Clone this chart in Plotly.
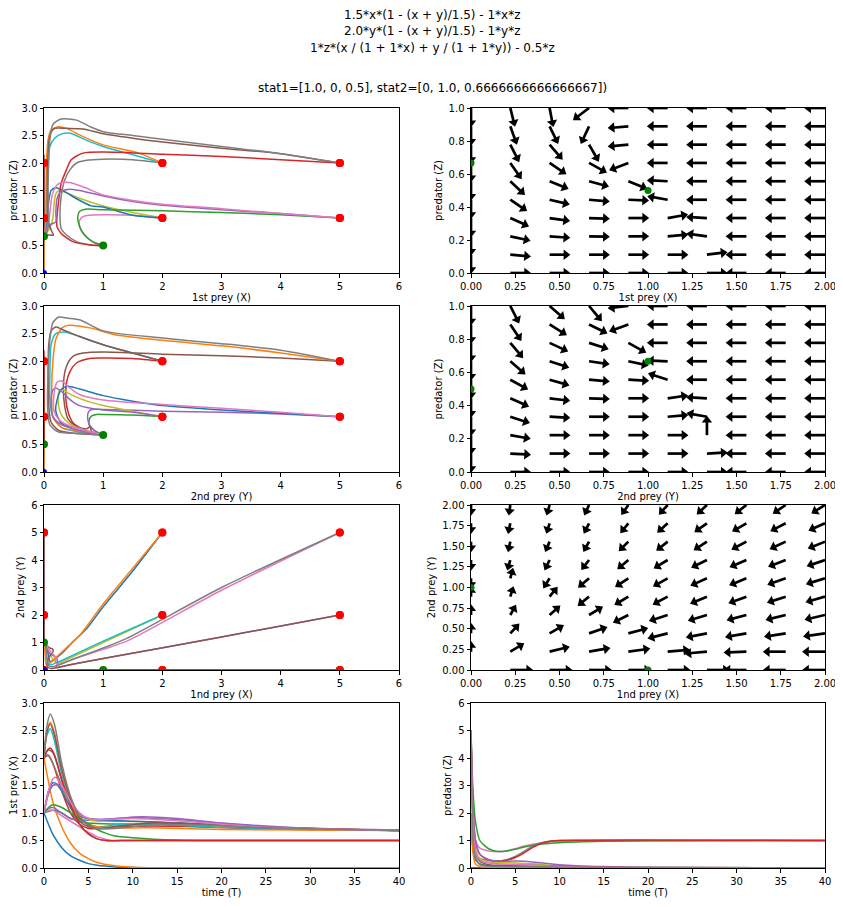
import math
import plotly.graph_objects as go
from plotly.subplots import make_subplots

# ---------------- data ----------------
TITLE_LINES = [
    "1.5*x*(1 - (x + y)/1.5) - 1*x*z",
    "2.0*y*(1 - (x + y)/1.5) - 1*y*z",
    "1*z*(x / (1 + 1*x) + y / (1 + 1*y)) - 0.5*z",
    "",
    "stat1=[1.0, 0, 0.5], stat2=[0, 1.0, 0.6666666666666667])",
]

COLORS = ['#1f77b4', '#ff7f0e', '#2ca02c', '#d62728', '#9467bd',
          '#8c564b', '#e377c2', '#7f7f7f', '#bcbd22', '#17becf']

# initial conditions (x, y, z)
STARTS = [(0, 0, 1), (0, 0, 2), (0, 2, 1), (0, 2, 2), (0, 5, 1), (0, 5, 2),
          (2, 0, 1), (2, 0, 2), (2, 2, 1), (2, 2, 2), (2, 5, 1), (2, 5, 2),
          (5, 0, 1), (5, 0, 2), (5, 2, 1), (5, 2, 2), (5, 5, 1), (5, 5, 2)]
STAT0 = (0, 0, 0)
STAT1 = (1.0, 0, 0.5)
STAT2 = (0, 1.0, 0.6666666666666667)

# phase paths: 1st prey (X) vs predator (Z)
XZ_PATHS = [
    [(0, 1), (0, 0)],
    [(0, 2), (0, 0)],
    [(0, 1), (0, 1.04), (0, 0.82), (0, 0.667)],
    [(0, 2), (0, 2.05), (0, 0.72), (0, 0.667)],
    [(0, 1), (0, 1.1), (0, 0.7), (0, 0.667)],
    [(0, 2), (0, 2.15), (0, 0.7), (0, 0.667)],
    [(2, 1), (1.5, 1.05), (1.0, 1.06), (0.75, 1.05), (0.65, 1.02), (0.6, 0.95), (0.6, 0.85), (0.64, 0.75), (0.73, 0.64), (0.85, 0.55), (1, 0.5)],
    [(2, 2), (1.5, 2.06), (1.0, 2.07), (0.72, 2.05), (0.55, 2.0), (0.44, 1.88), (0.35, 1.69), (0.29, 1.39), (0.27, 1.03), (0.29, 0.81), (0.38, 0.69), (0.55, 0.57), (0.8, 0.51), (1, 0.5)],
    [(2, 1), (1.5, 1.1), (1.0, 1.22), (0.6, 1.36), (0.35, 1.47), (0.25, 1.5), (0.2, 1.44), (0.17, 1.25), (0.15, 1.0), (0.11, 0.84), (0.05, 0.74), (0, 0.667)],
    [(2, 2), (1.5, 2.15), (1.0, 2.3), (0.7, 2.42), (0.45, 2.54), (0.3, 2.53), (0.18, 2.45), (0.1, 2.3), (0.07, 2.0), (0.05, 1.4), (0.04, 0.9), (0.02, 0.75), (0, 0.667)],
    [(2, 1), (1.5, 1.05), (1.0, 1.2), (0.8, 1.22), (0.55, 1.35), (0.35, 1.48), (0.2, 1.55), (0.12, 1.5), (0.08, 1.3), (0.06, 1.0), (0.04, 0.8), (0, 0.667)],
    [(2, 2), (1.6, 2.18), (1.0, 2.33), (0.66, 2.48), (0.38, 2.63), (0.24, 2.66), (0.12, 2.6), (0.07, 2.43), (0.04, 1.94), (0.03, 1.03), (0.02, 0.75), (0, 0.667)],
    [(5, 1), (4, 1.06), (3, 1.1), (2, 1.13), (1, 1.15), (0.7, 1.16), (0.6, 1.12), (0.57, 1.02), (0.6, 0.85), (0.68, 0.7), (0.82, 0.57), (1, 0.5)],
    [(5, 2), (4, 2.06), (3, 2.12), (2, 2.16), (1, 2.2), (0.66, 2.18), (0.46, 2.06), (0.38, 1.88), (0.29, 1.63), (0.25, 1.33), (0.22, 1.03), (0.22, 0.84), (0.29, 0.72), (0.49, 0.57), (0.77, 0.51), (1, 0.5)],
    [(5, 1), (4, 1.08), (3, 1.15), (2, 1.23), (1.5, 1.3), (1, 1.4), (0.6, 1.5), (0.4, 1.52), (0.28, 1.48), (0.22, 1.35), (0.2, 1.1), (0.2, 0.93), (0.15, 0.9), (0.08, 0.87), (0.04, 0.8), (0, 0.667)],
    [(5, 2), (4, 2.17), (3, 2.27), (2, 2.38), (1.5, 2.45), (1, 2.53), (0.66, 2.62), (0.38, 2.63), (0.18, 2.63), (0.1, 2.5), (0.06, 1.94), (0.07, 0.97), (0.12, 0.78), (0.16, 0.69), (0.08, 0.69), (0, 0.667)],
    [(5, 1), (4, 1.08), (3, 1.17), (2, 1.25), (1.5, 1.32), (1, 1.42), (0.7, 1.55), (0.45, 1.64), (0.32, 1.65), (0.22, 1.6), (0.14, 1.42), (0.1, 1.1), (0.08, 0.9), (0.05, 0.78), (0, 0.667)],
    [(5, 2), (4, 2.17), (3, 2.3), (2, 2.43), (1.5, 2.5), (1, 2.57), (0.8, 2.65), (0.55, 2.78), (0.29, 2.8), (0.15, 2.7), (0.1, 2.43), (0.07, 1.63), (0.07, 0.84), (0.04, 0.72), (0, 0.667)],
]

# phase paths: 2nd prey (Y) vs predator (Z)
YZ_PATHS = [
    [(0, 1), (0, 0)],
    [(0, 2), (0, 0)],
    [(2, 1), (1.5, 1.03), (1.0, 1.04), (0.89, 1.04), (0.8, 1.01), (0.76, 0.92), (0.77, 0.83), (0.86, 0.75), (1, 0.667)],
    [(2, 2), (1.5, 2.05), (0.94, 2.06), (0.77, 2.05), (0.55, 1.97), (0.44, 1.82), (0.38, 1.61), (0.37, 1.31), (0.41, 1.07), (0.49, 0.89), (0.66, 0.77), (0.83, 0.71), (1, 0.667)],
    [(5, 1), (4, 1.05), (3, 1.08), (2, 1.1), (1, 1.13), (0.8, 1.13), (0.75, 1.08), (0.74, 0.95), (0.77, 0.85), (0.85, 0.75), (1, 0.667)],
    [(5, 2), (4, 2.06), (3, 2.1), (2, 2.13), (1, 2.17), (0.66, 2.15), (0.49, 2.09), (0.38, 1.91), (0.33, 1.61), (0.35, 1.19), (0.41, 0.95), (0.55, 0.82), (0.72, 0.78), (0.78, 0.82), (0.8, 0.74), (1, 0.667)],
    [(0, 1), (0, 1.05), (0, 0.5)],
    [(0, 2), (0, 2.06), (0, 0.5)],
    [(2, 1), (1.5, 1.1), (1.0, 1.2), (0.6, 1.33), (0.4, 1.43), (0.3, 1.5), (0.25, 1.45), (0.24, 1.25), (0.3, 1.02), (0.45, 0.86), (0.7, 0.75), (1, 0.667)],
    [(2, 2), (1.5, 2.15), (1.0, 2.3), (0.6, 2.45), (0.35, 2.53), (0.2, 2.5), (0.12, 2.3), (0.1, 1.8), (0.1, 1.3), (0.15, 1.0), (0.3, 0.8), (0.6, 0.72), (1, 0.667)],
    [(5, 1), (4, 1.06), (3, 1.12), (2, 1.2), (1.5, 1.28), (1, 1.38), (0.6, 1.5), (0.4, 1.55), (0.3, 1.5), (0.22, 1.3), (0.2, 1.1), (0.28, 0.9), (0.5, 0.78), (0.8, 0.7), (1, 0.667)],
    [(5, 2), (4, 2.15), (3, 2.28), (2, 2.38), (1.2, 2.48), (0.8, 2.6), (0.4, 2.65), (0.3, 2.6), (0.2, 2.4), (0.15, 2.0), (0.13, 1.4), (0.15, 1.0), (0.3, 0.8), (0.6, 0.74), (1, 0.667)],
    [(0, 1), (0, 1.15), (0, 0.5)],
    [(0, 2), (0, 2.2), (0, 0.5)],
    [(2, 1), (1.5, 1.08), (1, 1.12), (0.6, 1.2), (0.45, 1.3), (0.3, 1.45), (0.2, 1.52), (0.15, 1.48), (0.12, 1.3), (0.15, 1.0), (0.3, 0.85), (0.6, 0.75), (1, 0.667)],
    [(2, 2), (1.5, 2.15), (1, 2.3), (0.6, 2.45), (0.3, 2.58), (0.2, 2.62), (0.12, 2.55), (0.08, 2.3), (0.07, 1.8), (0.08, 1.2), (0.12, 0.9), (0.25, 0.75), (0.5, 0.7), (1, 0.667)],
    [(5, 1), (4, 1.08), (3, 1.15), (2, 1.22), (1, 1.3), (0.6, 1.4), (0.4, 1.55), (0.3, 1.65), (0.22, 1.62), (0.17, 1.4), (0.17, 1.1), (0.25, 0.95), (0.4, 0.85), (0.7, 0.75), (1, 0.667)],
    [(5, 2), (4, 2.2), (3, 2.32), (2, 2.42), (1, 2.55), (0.6, 2.75), (0.4, 2.78), (0.25, 2.8), (0.15, 2.7), (0.1, 2.4), (0.07, 1.8), (0.06, 1.2), (0.1, 0.85), (0.25, 0.72), (0.6, 0.7), (1, 0.667)],
]

# phase paths: 1st prey (X) vs 2nd prey (Y)
XY_PATHS = [
    [(0, 0)],
    [(0, 0)],
    [(0, 2), (0, 1)],
    [(0, 2), (0, 0.95), (0, 1)],
    [(0, 5), (0, 1)],
    [(0, 5), (0, 0.9), (0, 1)],
    [(2, 0), (0.6, 0), (1, 0)],
    [(2, 0), (0.27, 0), (1, 0)],
    [(2, 2), (1, 1.0), (0.5, 0.5), (0.25, 0.25), (0.18, 0.3), (0.12, 0.5), (0.06, 0.75), (0.02, 0.92), (0, 1)],
    [(2, 2), (1, 1.05), (0.5, 0.55), (0.2, 0.25), (0.1, 0.2), (0.05, 0.4), (0.03, 0.7), (0.01, 0.9), (0, 1)],
    [(2, 5), (1.5, 3.6), (1, 2.3), (0.72, 1.5), (0.5, 1.05), (0.3, 0.6), (0.15, 0.35), (0.1, 0.3), (0.08, 0.5), (0.05, 0.75), (0.02, 0.92), (0, 1)],
    [(2, 5), (1.5, 3.7), (1, 2.4), (0.6, 1.25), (0.4, 0.85), (0.2, 0.45), (0.1, 0.25), (0.04, 0.2), (0.02, 0.5), (0.01, 0.85), (0, 1)],
    [(5, 0), (0.57, 0), (1, 0)],
    [(5, 0), (0.22, 0), (1, 0)],
    [(5, 2), (3, 1.2), (1, 0.42), (0.5, 0.22), (0.2, 0.1), (0.22, 0.2), (0.22, 0.4), (0.17, 0.5), (0.1, 0.6), (0.04, 0.8), (0, 1)],
    [(5, 2), (3, 1.2), (1, 0.42), (0.4, 0.17), (0.1, 0.06), (0.05, 0.15), (0.08, 0.45), (0.15, 0.65), (0.15, 0.75), (0.1, 0.8), (0.04, 0.9), (0, 1)],
    [(5, 5), (3, 2.9), (1.4, 1.05), (1, 0.75), (0.5, 0.4), (0.25, 0.2), (0.2, 0.25), (0.2, 0.45), (0.12, 0.65), (0.05, 0.85), (0, 1)],
    [(5, 5), (3, 3.0), (1.4, 1.15), (1, 0.8), (0.5, 0.4), (0.2, 0.15), (0.08, 0.15), (0.05, 0.4), (0.04, 0.8), (0.02, 0.92), (0, 1)],
]

# time series: predator value per time (left bottom panel)
Z_TIME = [
    [(0, 1), (1, 0.61), (2, 0.37), (3, 0.22), (4, 0.14), (5, 0.08), (6, 0.05), (8, 0.02), (10, 0.007), (15, 0), (40, 0)],
    [(0, 2), (1, 1.2), (2, 0.75), (3, 0.45), (4, 0.27), (5, 0.17), (6, 0.1), (8, 0.04), (10, 0.015), (15, 0), (40, 0)],
    [(0, 1), (1, 1.05), (2, 1.0), (3, 0.9), (5, 0.82), (8, 0.8), (12, 0.8), (20, 0.75), (30, 0.7), (40, 0.68)],
    [(0, 2), (0.5, 2.05), (1, 1.9), (2, 1.4), (3, 1.0), (4, 0.8), (5, 0.72), (7, 0.72), (10, 0.76), (15, 0.76), (25, 0.71), (40, 0.68)],
    [(0, 1), (0.5, 1.08), (1, 1.1), (2, 1.0), (3, 0.9), (5, 0.87), (8, 0.9), (11, 0.93), (15, 0.9), (20, 0.82), (30, 0.72), (40, 0.69)],
    [(0, 2), (0.5, 2.15), (1, 2.1), (2, 1.6), (3, 1.1), (4, 0.85), (5, 0.75), (6, 0.72), (8, 0.75), (12, 0.82), (18, 0.8), (25, 0.74), (40, 0.68)],
    [(0, 1), (0.5, 1.05), (1, 1.05), (2, 0.95), (3, 0.85), (4, 0.75), (5, 0.65), (6, 0.57), (7, 0.52), (8, 0.5), (10, 0.5), (40, 0.5)],
    [(0, 2), (0.4, 2.06), (1, 1.9), (2, 1.5), (3, 1.1), (4, 0.8), (5, 0.62), (6, 0.53), (7, 0.5), (10, 0.5), (40, 0.5)],
    [(0, 1), (0.5, 1.35), (1, 1.5), (1.5, 1.5), (2, 1.4), (3, 1.15), (4, 0.97), (5, 0.88), (6, 0.85), (8, 0.85), (12, 0.84), (20, 0.76), (40, 0.68)],
    [(0, 2), (0.3, 2.4), (0.7, 2.53), (1.2, 2.3), (2, 1.7), (3, 1.2), (4, 0.9), (5, 0.78), (6, 0.75), (8, 0.78), (12, 0.8), (20, 0.74), (40, 0.68)],
    [(0, 1), (0.5, 1.4), (1, 1.55), (1.5, 1.52), (2, 1.4), (3, 1.1), (4, 0.95), (5, 0.9), (7, 0.87), (10, 0.85), (15, 0.82), (25, 0.73), (40, 0.68)],
    [(0, 2), (0.3, 2.45), (0.7, 2.65), (1.2, 2.45), (2, 1.8), (3, 1.2), (4, 0.9), (5, 0.8), (6, 0.75), (8, 0.73), (12, 0.73), (20, 0.7), (40, 0.68)],
    [(0, 1), (0.5, 1.1), (1, 1.15), (2, 1.1), (3, 1.0), (4, 0.9), (5, 0.8), (6, 0.7), (7, 0.63), (8, 0.58), (10, 0.55), (13, 0.52), (20, 0.5), (40, 0.5)],
    [(0, 2), (0.3, 2.12), (0.7, 2.18), (1.2, 2.05), (2, 1.6), (3, 1.15), (4, 0.8), (5, 0.62), (6, 0.53), (7, 0.5), (10, 0.5), (40, 0.5)],
    [(0, 1), (0.5, 1.35), (1, 1.5), (1.5, 1.52), (2, 1.45), (3, 1.2), (4, 1.0), (5, 0.9), (7, 0.88), (10, 0.92), (15, 0.88), (25, 0.75), (40, 0.69)],
    [(0, 2), (0.3, 2.45), (0.7, 2.62), (1.2, 2.4), (2, 1.8), (3, 1.25), (4, 0.92), (5, 0.78), (6, 0.72), (8, 0.75), (12, 0.82), (18, 0.8), (25, 0.74), (40, 0.68)],
    [(0, 1), (0.5, 1.4), (1, 1.62), (1.3, 1.65), (2, 1.5), (3, 1.2), (4, 0.98), (5, 0.9), (7, 0.88), (10, 0.9), (15, 0.86), (25, 0.74), (40, 0.68)],
    [(0, 2), (0.3, 2.55), (0.7, 2.8), (1.2, 2.6), (2, 1.9), (3, 1.3), (4, 0.95), (5, 0.78), (6, 0.72), (8, 0.72), (12, 0.78), (18, 0.78), (25, 0.73), (40, 0.68)],
]

# time series: 1st prey value per time (right bottom panel)
X_TIME = [
    [(0, 0), (40, 0)],
    [(0, 0), (40, 0)],
    [(0, 0), (40, 0)],
    [(0, 0), (40, 0)],
    [(0, 0), (40, 0)],
    [(0, 0), (40, 0)],
    [(0, 2), (0.3, 1.2), (0.7, 0.85), (1, 0.72), (2, 0.62), (3, 0.6), (4, 0.62), (5, 0.7), (6, 0.8), (8, 0.92), (10, 0.97), (15, 1.0), (40, 1.0)],
    [(0, 2), (0.3, 0.9), (0.7, 0.45), (1, 0.35), (2, 0.27), (3, 0.25), (4, 0.3), (5, 0.42), (6, 0.6), (7, 0.8), (8, 0.92), (9, 0.98), (10, 1.0), (40, 1.0)],
    [(0, 2), (0.3, 1.0), (0.7, 0.5), (1, 0.35), (2, 0.22), (3, 0.2), (5, 0.18), (7, 0.15), (10, 0.08), (15, 0.04), (20, 0.02), (40, 0)],
    [(0, 2), (0.3, 0.7), (0.7, 0.25), (1, 0.15), (2, 0.08), (4, 0.06), (7, 0.07), (10, 0.05), (15, 0.02), (40, 0)],
    [(0, 2), (0.2, 0.8), (0.5, 0.3), (1, 0.15), (2, 0.08), (4, 0.05), (8, 0.03), (15, 0.01), (40, 0)],
    [(0, 2), (0.2, 0.6), (0.5, 0.15), (1, 0.05), (2, 0.02), (4, 0.01), (10, 0), (40, 0)],
    [(0, 5), (0.2, 3.0), (0.5, 1.7), (1, 1.0), (2, 0.7), (3, 0.6), (4, 0.62), (5, 0.68), (6, 0.76), (8, 0.87), (10, 0.92), (15, 0.97), (20, 0.99), (40, 1.0)],
    [(0, 5), (0.2, 2.5), (0.5, 1.0), (1, 0.5), (2, 0.3), (3, 0.25), (4, 0.28), (5, 0.38), (6, 0.55), (7, 0.75), (8, 0.9), (9, 0.97), (10, 1.0), (40, 1.0)],
    [(0, 5), (0.2, 2.5), (0.5, 1.0), (1, 0.5), (2, 0.3), (3, 0.25), (5, 0.25), (7, 0.22), (10, 0.12), (15, 0.05), (20, 0.02), (40, 0)],
    [(0, 5), (0.2, 2.0), (0.5, 0.6), (1, 0.25), (2, 0.12), (4, 0.1), (7, 0.1), (10, 0.06), (15, 0.03), (40, 0)],
    [(0, 5), (0.2, 2.0), (0.5, 0.6), (1, 0.3), (2, 0.18), (4, 0.14), (7, 0.1), (10, 0.05), (15, 0.02), (40, 0)],
    [(0, 5), (0.15, 2.0), (0.4, 0.5), (1, 0.12), (2, 0.06), (4, 0.05), (8, 0.04), (15, 0.01), (40, 0)],
]

# quiver grids and arrow directions (screen angle in degrees, rows from top)
Q_X = [0.0, 0.222, 0.444, 0.667, 0.889, 1.111, 1.333, 1.556, 1.778, 2.0]
Q_Z = [1.0, 0.889, 0.778, 0.667, 0.556, 0.444, 0.333, 0.222, 0.111, 0.0]
Q_Y2 = [2.0, 1.778, 1.556, 1.333, 1.111, 0.889, 0.667, 0.444, 0.222, 0.0]

XZ_ANGLES = [
    [-90, -76, -79, -143, 180, 180, 180, 180, 180, 180],
    [-90, -70, -64, -115, -175, 180, 180, 180, 180, 180],
    [-90, -63, -49, -60, -175, 180, 180, 180, 180, 180],
    [-90, -55, -34, -29, -159, 180, 180, 180, 180, 180],
    [-90, -43, -22, -15, -22, 177, 180, 180, 180, 180],
    [-90, -34, -13, -5, -2, 170, 180, 180, 180, 180],
    [-90, -24, -8, -2, 0, 10, 177, 180, 180, 180],
    [-90, -12, -4, -1, 0, 5, 172, 180, 180, 180],
    [-90, -5, 0, 0, 0, 0, 7, 180, 180, 180],
    [-90, 0, 0, 0, 0, 0, 0, 180, 180, 180],
]

YZ_ANGLES = [
    [-90, -63, -41, -50, -174, 180, 180, 180, 180, 180],
    [-90, -56, -32, -26, -160, 180, 180, 180, 180, 180],
    [-90, -50, -25, -18, -29, 180, 180, 180, 180, 180],
    [-90, -41, -18, -8, -12, 178, 180, 180, 180, 180],
    [-90, -29, -16, -5, -3, 162, 180, 180, 180, 180],
    [-90, -24, -7, -2, 0, 8, 177, 180, 180, 180],
    [-90, -18, -3, 0, 0, 5, 170, 180, 180, 180],
    [-90, -10, 0, 0, 0, 0, 90, 180, 180, 180],
    [-90, -3, 0, 0, 0, 0, 3, 180, 180, 180],
    [-90, 0, 0, 0, 0, 0, 0, 180, 180, 180],
]

XY_ANGLES = [
    [-90, -98, -106, -115, -125, -132, -137, -142, -146, -148],
    [-90, -102, -107, -117, -129, -138, -145, -150, -153, -156],
    [-90, -102, -113, -119, -135, -141, -147, -152, -155, -158],
    [-90, -106, -116, -128, -140, -149, -154, -157, -159, -161],
    [-90, 75, -122, -140, -147, -151, -156, -158, -161, -163],
    [90, 73, 51, -141, -149, -152, -157, -160, -162, -164],
    [90, 61, 41, 31, -153, -162, -163, -165, -166, -167],
    [90, 47, 30, 19, 15, -166, -169, -170, -171, -172],
    [90, 31, 14, 10, 8, 5, -175, -178, 180, 180],
    [None, 0, 0, 0, 0, 0, 0, 180, 180, 180],
]

# ---------------- figure ----------------
OFF = 8  # page body margin of the browser
W, H = 843 - OFF, 907 - OFF
fig = make_subplots(rows=4, cols=2)

COL_PX = [(44, 399), (471, 825)]
ROW_PX = [(108, 273), (306, 472), (505, 670), (703, 868)]

AXES = {
    # k: (xrange, xdtick, xfmt, xtitle, yrange, ydtick, yfmt, ytitle)
    1: ([0, 6], 1, 'd', '1st prey (X)', [0, 3], 0.5, '.1f', 'predator (Z)'),
    2: ([0, 2], 0.25, '.2f', '1st prey (X)', [0, 1], 0.2, '.1f', 'predator (Z)'),
    3: ([0, 6], 1, 'd', '2nd prey (Y)', [0, 3], 0.5, '.1f', 'predator (Z)'),
    4: ([0, 2], 0.25, '.2f', '2nd prey (Y)', [0, 1], 0.2, '.1f', 'predator (Z)'),
    5: ([0, 6], 1, 'd', '1nd prey (X)', [0, 6], 1, 'd', '2nd prey (Y)'),
    6: ([0, 2], 0.25, '.2f', '1nd prey (X)', [0, 2], 0.25, '.2f', '2nd prey (Y)'),
    7: ([0, 40], 5, 'd', 'time (T)', [0, 3], 0.5, '.1f', '1st prey (X)'),
    8: ([0, 40], 5, 'd', 'time (T)', [0, 6], 1, 'd', 'predator (Z)'),
}
QUIVER_LEN = {2: 0.118, 4: 0.118, 6: 0.13}

FONT = 'DejaVu Sans'
for k, (xr, xd, xf, xt, yr, yd, yf, yt) in AXES.items():
    r = (k - 1) // 2
    c = (k - 1) % 2
    x0, x1 = COL_PX[c]
    y0, y1 = ROW_PX[r]
    common = dict(showline=True, linecolor='black', linewidth=1, mirror=True,
                  ticks='outside', ticklen=3.5, tickwidth=1, tickcolor='black',
                  showgrid=False, zeroline=False, automargin=False,
                  tickfont=dict(family=FONT, size=10, color='black'),
                  title_font=dict(family=FONT, size=10, color='black'))
    xn = 'xaxis' if k == 1 else f'xaxis{k}'
    yn = 'yaxis' if k == 1 else f'yaxis{k}'
    fig.layout[xn].update(domain=[(x0 - OFF) / W, (x1 - OFF) / W], range=xr, dtick=xd, tick0=0,
                          tickformat=xf, title=dict(text=xt, standoff=3), **common)
    fig.layout[yn].update(domain=[1 - (y1 - OFF) / H, 1 - (y0 - OFF) / H], range=yr, dtick=yd,
                          tick0=0, tickformat=yf, title=dict(text=yt, standoff=4), **common)


def refs(k):
    return ('x' if k == 1 else f'x{k}', 'y' if k == 1 else f'y{k}')


def add_path(k, pts, color, smooth=True):
    xr, yr = refs(k)
    xs = [p[0] for p in pts]
    ys = [p[1] for p in pts]
    fig.add_trace(go.Scatter(x=xs, y=ys, mode='lines', xaxis=xr, yaxis=yr,
                             line=dict(color=color, width=1.5,
                                       shape='spline' if smooth else 'linear',
                                       smoothing=0.7),
                             showlegend=False, hoverinfo='skip'))


def add_dots(k, pts, color, size):
    xr, yr = refs(k)
    fig.add_trace(go.Scatter(x=[p[0] for p in pts], y=[p[1] for p in pts], mode='markers',
                             xaxis=xr, yaxis=yr, cliponaxis=True,
                             marker=dict(color=color, size=size, line=dict(width=0)),
                             showlegend=False, hoverinfo='skip'))


def add_quiver(k, angles, xs, ys):
    length = QUIVER_LEN[k]
    xr_name, yr_name = refs(k)
    xr, _, _, _, yr, _, _, _ = AXES[k]
    r = (k - 1) // 2
    c = (k - 1) % 2
    wpx = COL_PX[c][1] - COL_PX[c][0]
    hpx = ROW_PX[r][1] - ROW_PX[r][0]
    sx = wpx / (xr[1] - xr[0])
    sy = hpx / (yr[1] - yr[0])
    shx, shy, hx, hy, ha = [], [], [], [], []
    for i, row in enumerate(angles):
        for j, a in enumerate(row):
            if a is None:
                continue
            tx, ty = xs[j], ys[i]
            th = math.radians(a)
            dx, dy = math.cos(th) / sx, math.sin(th) / sy
            n = math.hypot(dx, dy)
            ux, uy = dx / n, dy / n
            lpx = length * math.hypot(ux * sx, uy * sy)
            f = max(lpx - 4.6, 0.5) / lpx
            cx, cy = tx + f * length * ux, ty + f * length * uy
            shx += [tx, cx, None]
            shy += [ty, cy, None]
            hx.append(cx)
            hy.append(cy)
            ha.append(90 - a)
    fig.add_trace(go.Scatter(x=shx, y=shy, mode='lines', xaxis=xr_name, yaxis=yr_name,
                             line=dict(color='black', width=2.7),
                             showlegend=False, hoverinfo='skip'))
    fig.add_trace(go.Scatter(x=hx, y=hy, mode='markers', xaxis=xr_name, yaxis=yr_name,
                             cliponaxis=True,
                             marker=dict(symbol='triangle-up', size=9, angle=ha,
                                         color='black', line=dict(width=0)),
                             showlegend=False, hoverinfo='skip'))


# phase panels
for i in range(len(STARTS)):
    add_path(1, XZ_PATHS[i], COLORS[i % 10])
add_dots(1, [(s[0], s[2]) for s in STARTS], '#ff0000', 8)
add_dots(1, [(STAT0[0], STAT0[2])], '#0000ff', 6)
add_dots(1, [(STAT1[0], STAT1[2]), (STAT2[0], STAT2[2])], '#008000', 8)

for i in range(len(STARTS)):
    add_path(3, YZ_PATHS[i], COLORS[i % 10])
add_dots(3, [(s[1], s[2]) for s in STARTS], '#ff0000', 8)
add_dots(3, [(STAT0[1], STAT0[2])], '#0000ff', 6)
add_dots(3, [(STAT1[1], STAT1[2]), (STAT2[1], STAT2[2])], '#008000', 8)

for i in range(len(STARTS)):
    if len(XY_PATHS[i]) > 1:
        add_path(5, XY_PATHS[i], COLORS[i % 10])
add_dots(5, [(s[0], s[1]) for s in STARTS], '#ff0000', 8)
add_dots(5, [(STAT0[0], STAT0[1])], '#0000ff', 6)
add_dots(5, [(STAT1[0], STAT1[1]), (STAT2[0], STAT2[1])], '#008000', 8)

# quiver panels
add_quiver(2, XZ_ANGLES, Q_X, Q_Z)
add_dots(2, [(STAT1[0], STAT1[2]), (STAT2[0], STAT2[2])], '#008000', 7)
add_quiver(4, YZ_ANGLES, Q_X, Q_Z)
add_dots(4, [(STAT1[1], STAT1[2]), (STAT2[1], STAT2[2])], '#008000', 7)
add_quiver(6, XY_ANGLES, Q_X, Q_Y2)
add_dots(6, [(STAT1[0], STAT1[1]), (STAT2[0], STAT2[1])], '#008000', 7)

# time panels
for i in range(len(STARTS)):
    add_path(7, Z_TIME[i], COLORS[i % 10])
for i in range(len(STARTS)):
    add_path(8, X_TIME[i], COLORS[i % 10])

# title lines
TITLE_Y_PX = [15, 31, 48, 64, 88]
anns = []
for txt, ypx in zip(TITLE_LINES, TITLE_Y_PX):
    if not txt:
        continue
    anns.append(dict(text=txt, x=(432 - OFF) / W, y=1 - (ypx - OFF) / H,
                     xref='paper', yref='paper',
                     xanchor='center', yanchor='middle', showarrow=False,
                     font=dict(family=FONT, size=12, color='black')))

fig.update_layout(width=W, height=H, margin=dict(l=0, r=0, t=0, b=0),
                  paper_bgcolor='white', plot_bgcolor='white',
                  template='none', showlegend=False,
                  font=dict(family=FONT, size=10, color='black'),
                  annotations=anns)

fig.write_html("out.html")
